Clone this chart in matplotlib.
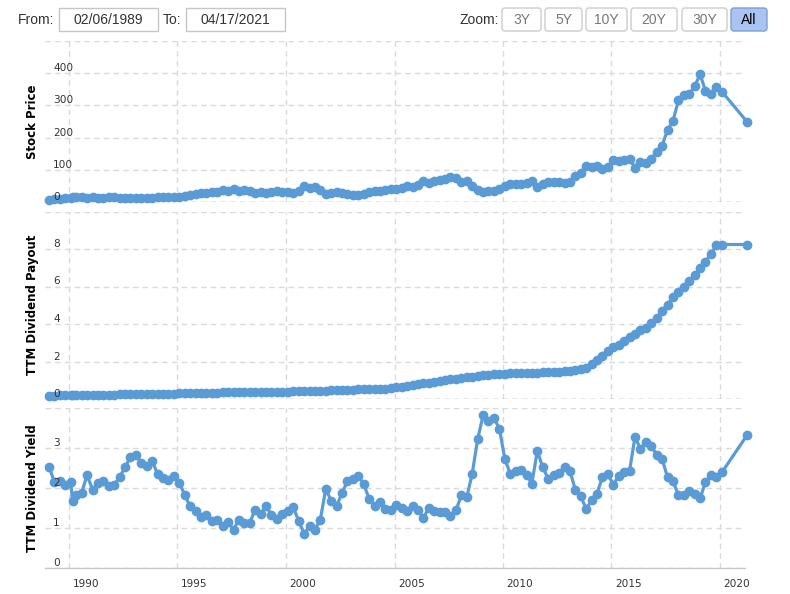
import matplotlib
matplotlib.use("Agg")
import matplotlib.pyplot as plt
from matplotlib.patches import FancyBboxPatch, Rectangle
from matplotlib.transforms import ScaledTranslation
import pandas as pd
import datetime as dt

# ---------------- data ----------------
dates_text = """
1989-02 1989-05 1989-08 1989-11
1990-02 1990-03 1990-05 1990-08 1990-11
1991-02 1991-05 1991-08 1991-11
1992-02 1992-05 1992-08 1992-11
1993-02 1993-05 1993-08 1993-11
1994-02 1994-05 1994-08 1994-11
1995-02 1995-05 1995-08 1995-11
1996-02 1996-05 1996-08 1996-11
1997-02 1997-05 1997-08 1997-11
1998-02 1998-05 1998-08 1998-11
1999-02 1999-05 1999-08 1999-11
2000-02 2000-05 2000-08 2000-11
2001-02 2001-05 2001-08 2001-11
2002-02 2002-05 2002-08 2002-11
2003-02 2003-05 2003-08 2003-11
2004-02 2004-05 2004-08 2004-11
2005-02 2005-05 2005-08 2005-11
2006-02 2006-05 2006-08 2006-11
2007-02 2007-05 2007-08 2007-11
2008-02 2008-05 2008-08 2008-11
2009-02 2009-05 2009-08 2009-11
2010-02 2010-05 2010-08 2010-11
2011-02 2011-05 2011-08 2011-11
2012-02 2012-05 2012-08 2012-11
2013-02 2013-05 2013-08 2013-11
2014-02 2014-05 2014-08 2014-11
2015-02 2015-05 2015-08 2015-11
2016-02 2016-05 2016-08 2016-11
2017-02 2017-05 2017-08 2017-11
2018-02 2018-05 2018-08 2018-11
2019-02 2019-05 2019-08 2019-11
2020-02 2021-04
"""

stock_price = [7, 9, 10, 11, 12, 14,
               14, 14, 12, 14, 13, 13, 14, 14, 13, 12, 11, 11, 12, 13, 13, 14, 15, 15, 16, 17,
               19, 23, 25, 28, 28, 31, 32, 37, 35, 41, 33, 36, 35, 29, 30, 27, 31, 34, 32, 30,
               29, 35, 49, 42, 46, 38, 24, 29, 32, 27, 24, 23, 22, 25, 31, 35, 34, 37,
               40, 40, 44, 49, 48, 54, 66, 58, 65, 68, 71, 78, 74, 61, 64, 51, 37, 32, 35, 35,
               39, 50, 57, 56, 57, 60, 66, 48, 57, 63, 63, 62, 60, 63, 80, 91, 113, 110, 112,
               103, 110, 131, 126, 131, 135, 106, 123, 122, 134, 155, 174, 224, 252, 316, 333,
               334, 360, 396, 346, 334, 356, 343, 249]

ttm_dividend = [0.18, 0.185, 0.19, 0.195, 0.20, 0.20,
                0.205, 0.21, 0.215, 0.22, 0.225, 0.23, 0.235, 0.24, 0.245, 0.25, 0.255, 0.26,
                0.265, 0.27, 0.27, 0.275, 0.28, 0.285, 0.29, 0.30, 0.305, 0.31, 0.32, 0.325,
                0.33, 0.34, 0.345, 0.35, 0.355, 0.36, 0.365, 0.37, 0.375, 0.38, 0.38, 0.385,
                0.39, 0.395, 0.40, 0.40, 0.405, 0.41, 0.415, 0.42, 0.43, 0.44, 0.45, 0.46,
                0.47, 0.48, 0.49, 0.50, 0.51, 0.52, 0.53, 0.535, 0.54, 0.545,
                0.58, 0.62, 0.66, 0.71, 0.75, 0.80, 0.84, 0.88, 0.93, 0.97, 1.01, 1.05, 1.08,
                1.12, 1.15, 1.19, 1.23, 1.26, 1.29, 1.31, 1.33, 1.35, 1.37, 1.38, 1.39, 1.39,
                1.39, 1.40, 1.42, 1.44, 1.45, 1.46, 1.47, 1.50, 1.55, 1.61, 1.67, 1.88, 2.10,
                2.31, 2.58, 2.75, 2.90, 3.07, 3.30, 3.45, 3.66, 3.80, 4.05, 4.33, 4.71, 5.04,
                5.42, 5.72, 5.97, 6.31, 6.61, 7.00, 7.32, 7.74, 8.19, 8.24, 8.24]

ttm_yield = [2.52, 2.15, 2.17, 2.08, 2.14, 1.67,
             1.83, 1.88, 2.32, 1.96, 2.12, 2.17, 2.04, 2.08, 2.27, 2.52, 2.77, 2.82, 2.63,
             2.54, 2.67, 2.35, 2.25, 2.21, 2.29, 2.13, 1.83, 1.54, 1.43, 1.27, 1.33, 1.17,
             1.19, 1.04, 1.14, 0.96, 1.21, 1.13, 1.13, 1.46, 1.36, 1.54, 1.33, 1.23,
             1.35, 1.43, 1.52, 1.18, 0.86, 1.04, 0.96, 1.21, 1.98, 1.67, 1.54, 1.88, 2.17,
             2.23, 2.31, 2.10, 1.73, 1.54, 1.65, 1.48, 1.46, 1.58, 1.50, 1.43, 1.56, 1.46,
             1.25, 1.50, 1.42, 1.39, 1.39, 1.31, 1.44, 1.82, 1.77, 2.36, 3.23, 3.82, 3.67,
             3.75, 3.48, 2.73, 2.36, 2.42, 2.44, 2.33, 2.11, 2.92, 2.52, 2.23, 2.32, 2.38,
             2.52, 2.42, 1.96, 1.79, 1.48, 1.69, 1.86, 2.27, 2.35, 2.08, 2.31, 2.39, 2.43,
             3.28, 2.98, 3.15, 3.04, 2.83, 2.73, 2.27, 2.17, 1.82, 1.82, 1.92, 1.85, 1.75,
             2.14, 2.33, 2.28, 2.39, 3.32]

panel_titles = ["Stock Price", "TTM Dividend Payout", "TTM Dividend Yield"]
price_ticks = [0, 100, 200, 300, 400, 500]
dividend_ticks = [0, 2, 4, 6, 8, 10]
yield_ticks = [0, 1, 2, 3, 4]
year_ticks = [1990, 1995, 2000, 2005, 2010, 2015, 2020]
from_date = "02/06/1989"
to_date = "04/17/2021"
zoom_labels = ["3Y", "5Y", "10Y", "20Y", "30Y", "All"]
active_zoom = "All"

# ---------------- figure ----------------
dates = pd.to_datetime(dates_text.split(), format="%Y-%m")

W, H = 790, 594
fig = plt.figure(figsize=(W / 100, H / 100), dpi=100)
fig.patch.set_facecolor("white")

BLUE = "#5B9BD5"
GRID = "#dadada"
TXT = "#333333"
LEFT, RIGHT = 45, 745
TICKSIZE = 7.6


def rect(top, bottom):
    return [LEFT / W, 1 - bottom / H, (RIGHT - LEFT) / W, (bottom - top) / H]


xlim = (dt.datetime(1988, 11, 23), dt.datetime(2021, 2, 25))
specs = [
    (stock_price, rect(41, 202), price_ticks),
    (ttm_dividend, rect(211.5, 399), dividend_ticks),
    (ttm_yield, rect(408, 568), yield_ticks),
]

for k, (vals, pos, yt) in enumerate(specs):
    ax = fig.add_axes(pos, zorder=1)
    ax.set_facecolor("none")
    ax.plot(dates, vals, "-o", color=BLUE, lw=2.3, ms=6.0, mec=BLUE, mfc=BLUE,
            clip_on=False, zorder=5)
    ax.set_xlim(xlim)
    ax.set_ylim(yt[0], yt[-1])
    ax.set_yticks(yt)
    ax.set_xticks([dt.datetime(y, 1, 1) for y in year_ticks])
    ax.grid(True, color=GRID, lw=1.0, linestyle=(0, (4, 3)))
    ax.set_axisbelow(True)
    for s in ax.spines.values():
        s.set_visible(False)
    ax.tick_params(axis="both", length=0, labelleft=False)
    if k < 2:
        ax.axhline(0, color="#b5b5b5", lw=1.0, linestyle=(0, (4, 3)), zorder=1)
        ax.tick_params(axis="x", labelbottom=False)
    else:
        ax.spines["bottom"].set_visible(True)
        ax.spines["bottom"].set_color("#c8c8c8")
        ax.spines["bottom"].set_linewidth(1.0)
        ax.set_xticklabels([str(y) for y in year_ticks])
        ax.tick_params(axis="x", pad=8, labelsize=TICKSIZE, labelcolor=TXT)
        off = ScaledTranslation(17 / 100, 0, fig.dpi_scale_trans)
        for lab in ax.get_xticklabels():
            lab.set_transform(lab.get_transform() + off)
    ax.set_ylabel(panel_titles[k], fontsize=8.5, fontweight="bold", color="black")
    ax.yaxis.label.set_verticalalignment("center")
    ax.yaxis.set_label_coords((33 - LEFT) / (RIGHT - LEFT), 0.5)

    # y labels drawn on top of the series (as in the original)
    lab_ax = fig.add_axes(pos, sharey=ax, zorder=2)
    lab_ax.set_facecolor("none")
    lab_ax.set_xticks([])
    for s in lab_ax.spines.values():
        s.set_visible(False)
    lab_ax.set_yticks(yt)
    lab_ax.set_yticklabels([str(v) for v in yt[:-1]] + [""])
    lab_ax.tick_params(axis="y", length=0, pad=-6, labelsize=TICKSIZE, labelcolor=TXT)
    for lab in lab_ax.get_yticklabels():
        lab.set_horizontalalignment("left")
        lab.set_verticalalignment("bottom")

# ---------------- header (range selector) ----------------
hdr = fig.add_axes([0, 0, 1, 1], zorder=10)
hdr.set_xlim(0, W)
hdr.set_ylim(H, 0)
hdr.axis("off")
hdr.patch.set_alpha(0)

hfont = ["Liberation Sans Narrow", "Liberation Sans", "DejaVu Sans"]
yc = 19.5
hdr.text(18, yc, "From:", ha="left", va="center", fontsize=10, color=TXT, family=hfont)
hdr.add_patch(Rectangle((59, 7.5), 99, 23.5, fc="white", ec="#c6c6c6", lw=1))
hdr.text(108.5, yc, from_date, ha="center", va="center", fontsize=10, color=TXT, family=hfont)
hdr.text(163, yc, "To:", ha="left", va="center", fontsize=10, color=TXT, family=hfont)
hdr.add_patch(Rectangle((186, 7.5), 99, 23.5, fc="white", ec="#c6c6c6", lw=1))
hdr.text(235.5, yc, to_date, ha="center", va="center", fontsize=10, color=TXT, family=hfont)
hdr.text(460, yc, "Zoom:", ha="left", va="center", fontsize=10, color=TXT, family=hfont)

btn_x = [(502, 541), (545, 582), (586, 627), (631, 677), (682, 727), (731, 767)]
for lab, (x0, x1) in zip(zoom_labels, btn_x):
    active = lab == active_zoom
    hdr.add_patch(FancyBboxPatch((x0, 8), x1 - x0, 23,
                                 boxstyle="round,pad=0,rounding_size=3",
                                 fc="#a9c4f0" if active else "white",
                                 ec="#7f9ed6" if active else "#cccccc", lw=1))
    hdr.text((x0 + x1) / 2, yc, lab, ha="center", va="center", fontsize=10,
             color="black" if active else "#777777", family=hfont)

fig.savefig("out.png", dpi=100)
